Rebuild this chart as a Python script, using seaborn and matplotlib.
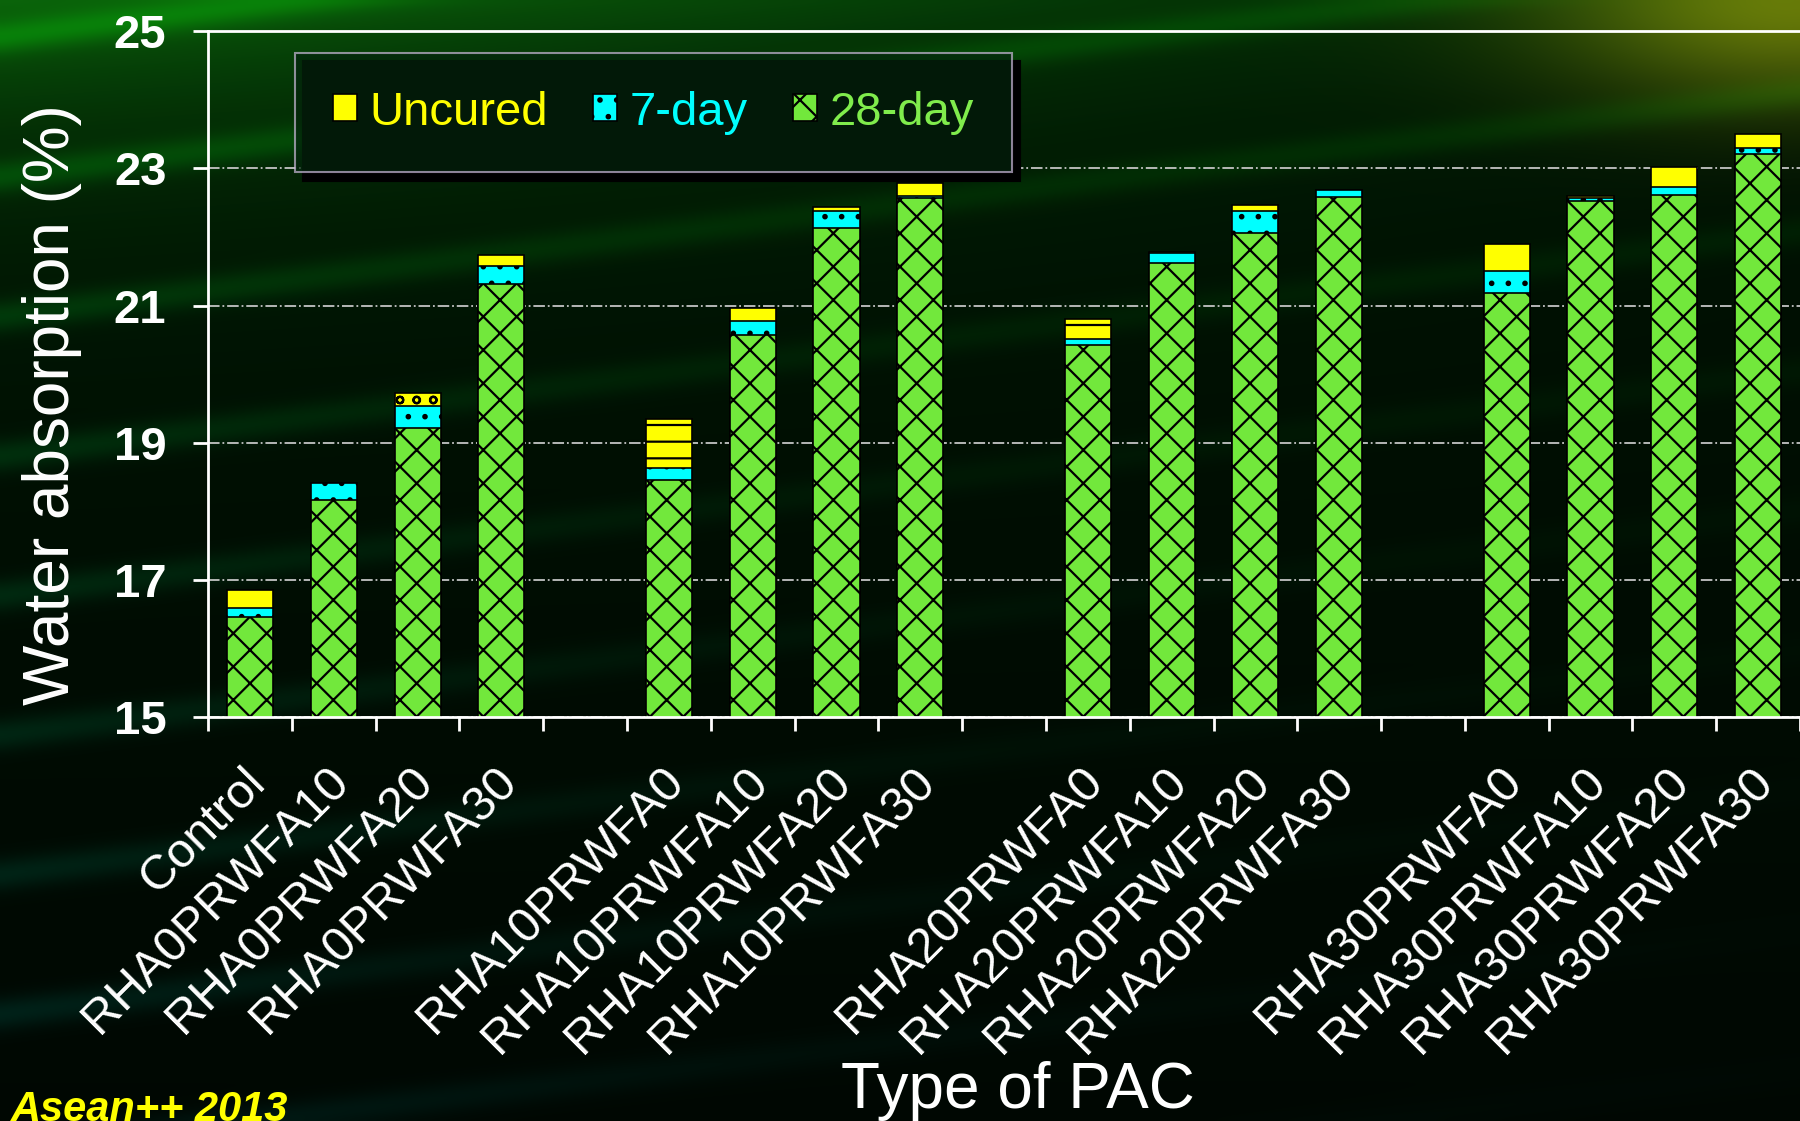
import numpy as np
import matplotlib
matplotlib.use('Agg')
import matplotlib.pyplot as plt
import matplotlib.transforms as mtransforms
from matplotlib.patches import Patch
import seaborn as sns

# mixes, in 4 groups of 4 (group 0 = RHA0 incl. control)
mixes = ['Control', 'RHA0PRWFA10', 'RHA0PRWFA20', 'RHA0PRWFA30',
         'RHA10PRWFA0', 'RHA10PRWFA10', 'RHA10PRWFA20', 'RHA10PRWFA30',
         'RHA20PRWFA0', 'RHA20PRWFA10', 'RHA20PRWFA20', 'RHA20PRWFA30',
         'RHA30PRWFA0', 'RHA30PRWFA10', 'RHA30PRWFA20', 'RHA30PRWFA30']
group = [0, 0, 0, 0, 1, 1, 1, 1, 2, 2, 2, 2, 3, 3, 3, 3]

# water absorption (%)
day28 = [16.46, 18.17, 19.21, 21.32,
         18.46, 20.57, 22.13, 22.56,
         20.43, 21.62, 22.05, 22.58,
         21.18, 22.52, 22.61, 23.21]
day7 = [16.60, 18.41, 19.54, 21.57,
        18.63, 20.77, 22.37, 22.59,
        20.51, 21.76, 22.37, 22.68,
        21.51, 22.56, 22.72, 23.30]
uncured = [16.86, 18.42, 19.73, 21.74,
           19.34, 20.97, 22.44, 22.78,
           20.81, 21.78, 22.46, 22.69,
           21.90, 22.60, 23.02, 23.50]

series_names = ['Uncured', '7-day', '28-day']
yticks = [15, 17, 19, 21, 23, 25]

# one empty slot between groups
pos = [g * 5 + i % 4 for i, g in enumerate(group)]
nslots = 19

c_unc, c_7, c_28 = '#FFFF00', '#00FFFF', '#72E83C'
txt_28 = '#80EC4C'
unc_hatch = ['', '', 'o', '', '-', '', '', '', '-', '', '', '', '', '', '', '']

sns.set_theme(style='ticks')
plt.rcParams['font.family'] = ['Liberation Sans', 'DejaVu Sans']
plt.rcParams['hatch.linewidth'] = 1.6
plt.rcParams['hatch.color'] = 'black'

fig = plt.figure(figsize=(18, 11.21), dpi=100, facecolor='black')

# background: dark green slide with streaks
ny, nx = 224, 360
Y, X = np.mgrid[0:1:ny * 1j, 0:1:nx * 1j]
top = np.exp(-Y / 0.12) * np.clip(1 - 0.9 * X, 0, 1)
streak = (0.5 + 0.5 * np.sin(2 * np.pi * (Y + 0.2 * X) * 8)) ** 8
left = np.exp(-X / 0.35)
glow = np.exp(-(((X - 1.0) / 0.14) ** 2 + ((Y - 0.0) / 0.09) ** 2))
R = 0.0 + 0.04 * top + 0.40 * glow
G = 0.03 + 0.32 * top + 0.10 * streak * left + 0.38 * glow \
    + 0.10 * streak * (1 - Y) ** 3 + 0.04 * (1 - Y)
B = 0.01 + 0.03 * top + 0.10 * streak * left * Y + 0.02 * glow
img = np.clip(np.dstack([R, G, B]), 0, 1)
bg = fig.add_axes([0, 0, 1, 1], zorder=0)
bg.imshow(img, aspect='auto', interpolation='bicubic', extent=[0, 1, 0, 1])
bg.axis('off')

ax = fig.add_axes([0.1156, 0.36, 0.8844, 0.6124], zorder=1)
ax.set_facecolor('none')

kw = dict(native_scale=True, width=0.55, saturation=1, edgecolor='black',
          linewidth=1.2, ax=ax, zorder=2)
sns.barplot(x=pos, y=uncured, color=c_unc, **kw)
sns.barplot(x=pos, y=day7, color=c_7, **kw)
sns.barplot(x=pos, y=day28, color=c_28, **kw)

for p, h in zip(ax.containers[0], unc_hatch):
    p.set_hatch(h)
for p in ax.containers[1]:
    p.set_hatch('.')
for p in ax.containers[2]:
    p.set_hatch('x')

ax.set_ylim(15, 25)
ax.set_xlim(-0.5, nslots - 0.5)
ax.set_yticks(yticks)
ax.set_yticklabels([str(v) for v in yticks])
ax.yaxis.grid(True, linestyle='-.', color='#c4c4c4', linewidth=1.3, zorder=0)
ax.set_axisbelow(True)

labels = [''] * nslots
for p, m in zip(pos, mixes):
    labels[p] = m
ax.set_xticks(range(nslots))
ax.set_xticklabels(labels, rotation=45, ha='right', va='top',
                   rotation_mode='anchor', fontsize=35, color='white')
ax.set_xticks(np.arange(-0.5, nslots, 1), minor=True)
ax.tick_params(axis='x', which='major', length=0, pad=30)
ax.tick_params(axis='x', which='minor', length=10, width=2, color='white',
               direction='out')
ax.tick_params(axis='y', length=11, width=2, color='white', direction='out',
               labelsize=34, labelcolor='white', pad=19)
for t in ax.get_yticklabels():
    t.set_fontweight('bold')
shift = mtransforms.ScaledTranslation(-0.08, 0, fig.dpi_scale_trans)
for t in ax.get_xticklabels():
    t.set_transform(t.get_transform() + shift)

for s in ['left', 'bottom', 'top']:
    ax.spines[s].set_color('white')
    ax.spines[s].set_linewidth(2)
ax.spines['right'].set_visible(False)

ax.set_ylabel('Water absorption (%)', fontsize=46, color='white')
ax.yaxis.label.set_va('center')
ax.yaxis.set_label_coords(-0.098, 0.456)
ax.set_xlabel('Type of PAC', fontsize=46, color='white')
ax.xaxis.label.set_va('baseline')
ax.xaxis.set_label_coords(0.5088, -0.5688)

handles = [Patch(facecolor=c_unc, edgecolor='black', linewidth=1.2),
           Patch(facecolor=c_7, edgecolor='black', linewidth=1.2, hatch='.'),
           Patch(facecolor=c_28, edgecolor='black', linewidth=1.2, hatch='x')]
leg = ax.legend(handles, series_names, ncol=3, loc='upper left',
                bbox_to_anchor=(0.0547, 0.968), borderaxespad=0,
                fontsize=34, labelcolor=[c_unc, c_7, txt_28],
                handlelength=0.5, handleheight=0.5, handletextpad=0.28,
                columnspacing=0.95, borderpad=0.8, fancybox=False,
                shadow={'color': 'black', 'alpha': 1.0, 'ox': 6, 'oy': -6},
                facecolor='#03240c', edgecolor='#c9b8d8', framealpha=0.7)
leg.get_frame().set_linewidth(1.5)

fig.text(0.006, 0.0, 'Asean++ 2013', fontsize=30, fontweight='bold',
         fontstyle='italic', color='#FFFF00', va='baseline', ha='left')

fig.savefig('out.png', dpi=100, facecolor='black')
